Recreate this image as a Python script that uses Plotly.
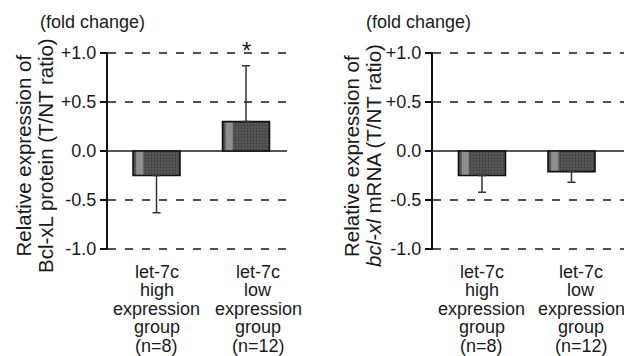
import plotly.graph_objects as go

# ---------------- data ----------------
group_lines = [
    ["let-7c", "high", "expression", "group", "(n=8)"],
    ["let-7c", "low", "expression", "group", "(n=12)"],
]
groups = ["high", "low"]

protein_mean = [-0.25, 0.30]
protein_err_up = [0.0, 0.57]
protein_err_down = [0.38, 0.0]

mrna_mean = [-0.25, -0.21]
mrna_err_up = [0.0, 0.0]
mrna_err_down = [0.17, 0.11]

tick_vals = [-1.0, -0.5, 0.0, 0.5, 1.0]
tick_text = ["-1.0", "-0.5", "0.0", "+0.5", "+1.0"]

unit_label = "(fold change)"
ytitle_protein = ["Relative expression of", "Bcl-xL protein (T/NT ratio)"]
ytitle_mrna = ["Relative expression of", "<i>bcl-xl</i> mRNA (T/NT ratio)"]
signif = ["", "*"]

# ---------------- style ----------------
FONT = "Liberation Sans, Arial, sans-serif"
TXT = "#1a1a1a"
OFF = 8                      # page body margin in the viewer
W, H = 632 - OFF, 356 - OFF  # figure fills the rest of the window
BAR_W = 0.525
STRIPE_W = 0.08
STRIPE_OFF = -BAR_W / 2 + 0.035
YPAD = 0.012  # tiny padding so the +/-1.0 gridlines are drawn


def fx(p):  # window pixel column -> paper x
    return (p - OFF) / W


def fy(p):  # window pixel row -> paper y
    return 1 - (p - OFF) / H


fig = go.Figure()


def add_panel(xa, ya, means, up, down):
    # textured fill
    fig.add_trace(go.Bar(
        x=groups, y=means, xaxis=xa, yaxis=ya, width=BAR_W,
        marker=dict(color="#555555", line=dict(width=0),
                    pattern=dict(shape=".", bgcolor="#5a5a5a", fgcolor="#383838",
                                 size=3, solidity=0.3, fillmode="replace")),
        showlegend=False, hoverinfo="skip"))
    # light stripe at the left of each bar
    fig.add_trace(go.Bar(
        x=groups, y=means, xaxis=xa, yaxis=ya,
        width=[STRIPE_W] * len(means), offset=[STRIPE_OFF] * len(means),
        marker=dict(color="#8e8e8e", line=dict(width=0)),
        showlegend=False, hoverinfo="skip"))
    # outline + error bars
    fig.add_trace(go.Bar(
        x=groups, y=means, xaxis=xa, yaxis=ya, width=BAR_W,
        marker=dict(color="rgba(0,0,0,0)", line=dict(color="#111111", width=1.6)),
        error_y=dict(type="data", symmetric=False, array=up, arrayminus=down,
                     color="#333333", thickness=1.5, width=4),
        showlegend=False, hoverinfo="skip"))


add_panel("x", "y", protein_mean, protein_err_up, protein_err_down)
add_panel("x2", "y2", mrna_mean, mrna_err_up, mrna_err_down)

# window rows of +1.0 (53) and -1.0 (249); extend domain to include padding
px_per_unit = (249 - 53) / 2.0
top_px = 53 - YPAD * px_per_unit
bot_px = 249 + YPAD * px_per_unit
ydom = [fy(bot_px), fy(top_px)]
yax = dict(
    range=[-1.0 - YPAD, 1.0 + YPAD], domain=ydom, tickvals=tick_vals, ticktext=tick_text,
    showgrid=True, gridcolor="#505050", gridwidth=1.6, griddash="8px,9px",
    zeroline=True, zerolinecolor="#555555", zerolinewidth=2,
    showline=True, linecolor="#111111", linewidth=2,
    ticks="outside", ticklen=6, tickwidth=2, tickcolor="#111111",
    tickfont=dict(family=FONT, size=18, color=TXT), fixedrange=True,
    automargin=False,
)
xax = dict(showticklabels=False, ticks="", showgrid=False, zeroline=False,
           showline=False, fixedrange=True, automargin=False)

fig.update_layout(
    template="none",
    width=W, height=H, margin=dict(l=0, r=0, t=0, b=0, pad=0, autoexpand=False),
    paper_bgcolor="white", plot_bgcolor="white", barmode="overlay",
    font=dict(family=FONT, size=18, color=TXT),
    xaxis=dict(xax, domain=[fx(108), fx(287)], range=[-0.542, 1.458]),
    xaxis2=dict(xax, domain=[fx(433), 1.0], range=[-0.547, 1.676]),
    yaxis=dict(yax, anchor="x"),
    yaxis2=dict(yax, anchor="x2"),
)

ann = []
# unit labels
for xpx in (38, 364):
    ann.append(dict(text=unit_label, xref="paper", yref="paper", x=fx(xpx),
                    y=fy(22), xanchor="left", yanchor="middle", showarrow=False,
                    font=dict(size=18)))
# y titles (two rotated lines each)
for lines, xs in ((ytitle_protein, (22.5, 45)), (ytitle_mrna, (351, 373))):
    for line, xpx in zip(lines, xs):
        ann.append(dict(text=line, xref="paper", yref="paper", x=fx(xpx),
                        y=fy(156), xanchor="center", yanchor="middle",
                        textangle=-90, showarrow=False, font=dict(size=20.5)))
# category labels
for xr, yr, shifts in (("x", "y", (0, 12)), ("x2", "y2", (0, 10))):
    for g, lines, sh in zip(groups, group_lines, shifts):
        for i, line in enumerate(lines):
            ann.append(dict(text=line, xref=xr, yref=yr, x=g, y=-1.0,
                            xanchor="center", yanchor="middle", xshift=sh,
                            yshift=-(22.5 + 18.5 * i), showarrow=False,
                            font=dict(size=18)))
# significance marks
for g, s in zip(groups, signif):
    if s:
        ann.append(dict(text=s, xref="x", yref="y", x=g, y=1.0, xanchor="center",
                        yanchor="middle", yshift=3, showarrow=False,
                        font=dict(size=24)))

fig.update_layout(annotations=ann)
fig.write_html("out.html")
